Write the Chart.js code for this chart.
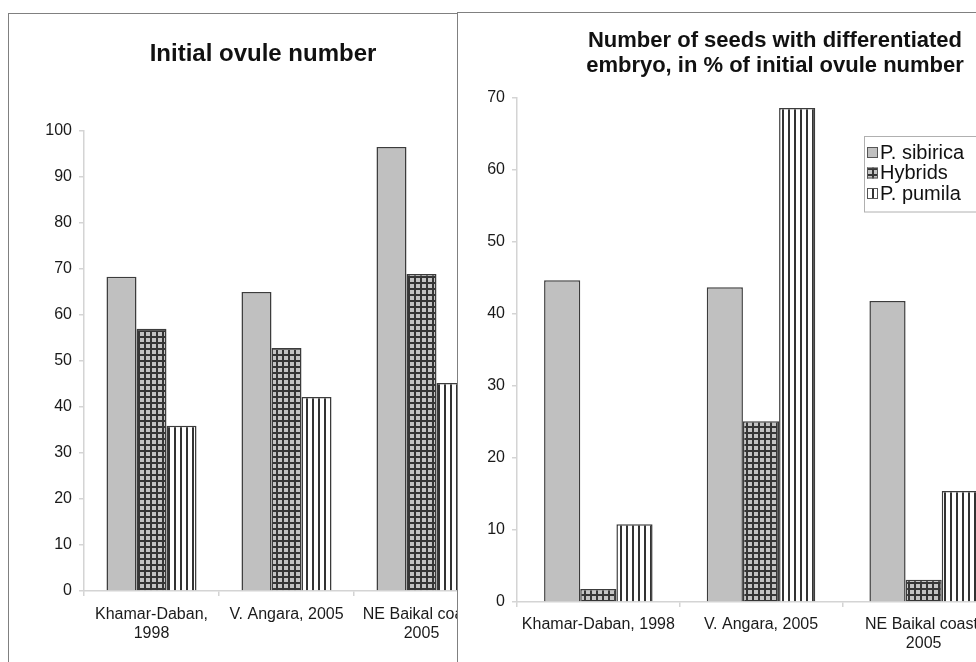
<!DOCTYPE html>
<html>
<head>
<meta charset="utf-8">
<script src="https://cdn.jsdelivr.net/npm/chart.js@4.4.1/dist/chart.umd.min.js"></script>
<style>
  html, body { margin: 0; padding: 0; background: #fff; }
  body { width: 976px; height: 662px; overflow: hidden; position: relative; font-family: "Liberation Sans", Arial, sans-serif; }
  .panel { position: absolute; box-sizing: border-box; border: 1.5px solid #808080; background: #fff; }
  #leftPanel { left: 8px; top: 13px; width: 450px; height: 700px; z-index: 0; }
  #rightPanel { left: 457px; top: 12px; width: 600px; height: 700px; z-index: 2; border-right: none; }
  canvas { position: absolute; top: 0; }
  #leftCanvas { left: 0; z-index: 1; }
  #rightCanvas { left: 458px; z-index: 3; }
  .title { position: absolute; text-align: center; font-weight: bold; color: #111; z-index: 4; }
  #leftTitle { left: 0; width: 526px; top: 39px; font-size: 24px; line-height: 28px; }
  #rightTitle { left: 560px; width: 430px; top: 27px; font-size: 22px; line-height: 25px; }
</style>
</head>
<body>
<div class="panel" id="leftPanel"></div>
<canvas id="leftCanvas" width="500" height="662"></canvas>
<div class="title" id="leftTitle">Initial ovule number</div>
<div class="panel" id="rightPanel"></div>
<canvas id="rightCanvas" width="560" height="662"></canvas>
<div class="title" id="rightTitle">Number of seeds with differentiated<br>embryo, in % of initial ovule number</div>
<script>
// Sites sampled and the three taxa compared
const sites = ['Khamar-Daban, 1998', 'V. Angara, 2005', 'NE Baikal coast, 2005'];
const seriesNames = ['P. sibirica', 'Hybrids', 'P. pumila'];

// Category labels as they wrap under each chart
const ovuleTickLabels = [['Khamar-Daban,', '1998'], ['V. Angara, 2005'], ['NE Baikal coast,', '2005']];
const embryoTickLabels = [['Khamar-Daban, 1998'], ['V. Angara, 2005'], ['NE Baikal coast,', '2005']];

// Initial ovule number per cone
const ovuleSibirica = [68.3, 65.0, 96.5];
const ovuleHybrids  = [57.0, 52.8, 68.9];
const ovulePumila   = [35.9, 42.2, 45.2];

// Seeds with differentiated embryo, % of initial ovule number
const embryoSibirica = [44.7, 43.7, 41.8];
const embryoHybrids  = [1.8, 25.1, 3.1];
const embryoPumila   = [10.8, 68.6, 15.4];

// Axis ranges
const ovuleAxis  = { min: 0, max: 100, step: 10 };
const embryoAxis = { min: 0, max: 70, step: 10 };

// Fill patterns for the three taxa
function makePattern(kind) {
  const c = document.createElement('canvas');
  c.width = 6; c.height = 6;
  const g = c.getContext('2d');
  if (kind === 'solid') {
    g.fillStyle = '#c0c0c0'; g.fillRect(0, 0, 6, 6);
  } else if (kind === 'grid') {
    g.fillStyle = '#c4c4c4'; g.fillRect(0, 0, 6, 6);
    g.fillStyle = '#363636';
    g.fillRect(0, 0, 2, 6);
    g.fillRect(0, 0, 6, 2);
  } else {
    g.fillStyle = '#ffffff'; g.fillRect(0, 0, 6, 6);
    g.fillStyle = '#333333';
    g.fillRect(0, 0, 2, 6);
  }
  return g.createPattern(c, 'repeat');
}
const fills = [makePattern('solid'), makePattern('grid'), makePattern('vlines')];

const FONT = "'Liberation Sans', Arial, sans-serif";
const AXIS_GREY = '#d4d4d4';

function buildDatasets(values) {
  return values.map((v, i) => ({
    label: seriesNames[i],
    data: v,
    backgroundColor: fills[i],
    borderColor: '#3c3c3c',
    borderWidth: 1.5,
    borderSkipped: 'bottom',
    categoryPercentage: 0.667,
    barPercentage: 1.0
  }));
}

// Legend box drawn inside the plot area
const insetLegend = {
  id: 'insetLegend',
  afterDatasetsDraw(chart, args, opts) {
    if (!opts || !opts.show) return;
    const ctx = chart.ctx;
    const a = chart.chartArea;
    const x = a.right - opts.fromRight;
    const y = a.top + opts.fromTop;
    const rowH = opts.rowHeight;
    const n = chart.data.datasets.length;
    ctx.save();
    ctx.fillStyle = '#ffffff';
    ctx.fillRect(x, y, 200, rowH * n + 14);
    ctx.strokeStyle = '#b0b0b0';
    ctx.lineWidth = 1;
    ctx.strokeRect(x + 0.5, y + 0.5, 200, rowH * n + 14);
    ctx.font = opts.fontSize + 'px ' + FONT;
    ctx.textBaseline = 'middle';
    chart.data.datasets.forEach((ds, i) => {
      const cy = y + 16 + i * rowH;
      ctx.fillStyle = ds.backgroundColor;
      ctx.fillRect(x + 3, cy - 5, 11, 11);
      ctx.strokeStyle = '#555';
      ctx.lineWidth = 1;
      ctx.strokeRect(x + 3.5, cy - 4.5, 10, 10);
      ctx.fillStyle = '#111';
      ctx.fillText(ds.label, x + 16, cy + 1);
    });
    ctx.restore();
  }
};

function makeChart(canvasId, labels, values, axis, geom, legendOpts) {
  return new Chart(document.getElementById(canvasId), {
    type: 'bar',
    data: { labels: labels, datasets: buildDatasets(values) },
    plugins: [insetLegend],
    options: {
      responsive: false,
      animation: false,
      layout: { padding: { top: geom.top, right: geom.right, bottom: 0, left: 0 } },
      plugins: {
        legend: { display: false },
        title: { display: false },
        tooltip: { enabled: false },
        insetLegend: legendOpts
      },
      scales: {
        x: {
          grid: { offset: true, drawOnChartArea: false, drawTicks: true, tickLength: 5, color: AXIS_GREY, lineWidth: 1.5 },
          border: { color: AXIS_GREY, width: 1.5 },
          ticks: { font: { family: FONT, size: 16, lineHeight: 1.2 }, color: '#1a1a1a', padding: geom.labelPad, maxRotation: 0, autoSkip: false },
          afterFit(scale) { scale.height = geom.xHeight; }
        },
        y: {
          min: axis.min, max: axis.max,
          grid: { drawOnChartArea: false, drawTicks: true, tickLength: 5, color: AXIS_GREY, lineWidth: 1.5 },
          border: { color: AXIS_GREY, width: 1.5 },
          ticks: { stepSize: axis.step, font: { family: FONT, size: 16 }, color: '#1a1a1a', padding: 7 },
          afterFit(scale) { scale.width = geom.yWidth; }
        }
      }
    }
  });
}

makeChart('leftCanvas', ovuleTickLabels, [ovuleSibirica, ovuleHybrids, ovulePumila], ovuleAxis,
  { top: 131, right: 11, xHeight: 71, yWidth: 84, labelPad: 9 }, { show: false });

makeChart('rightCanvas', embryoTickLabels, [embryoSibirica, embryoHybrids, embryoPumila], embryoAxis,
  { top: 98, right: 13, xHeight: 60, yWidth: 59, labelPad: 8 },
  { show: true, fromRight: 141, fromTop: 38, rowHeight: 20.5, fontSize: 20 });
</script>
</body>
</html>
